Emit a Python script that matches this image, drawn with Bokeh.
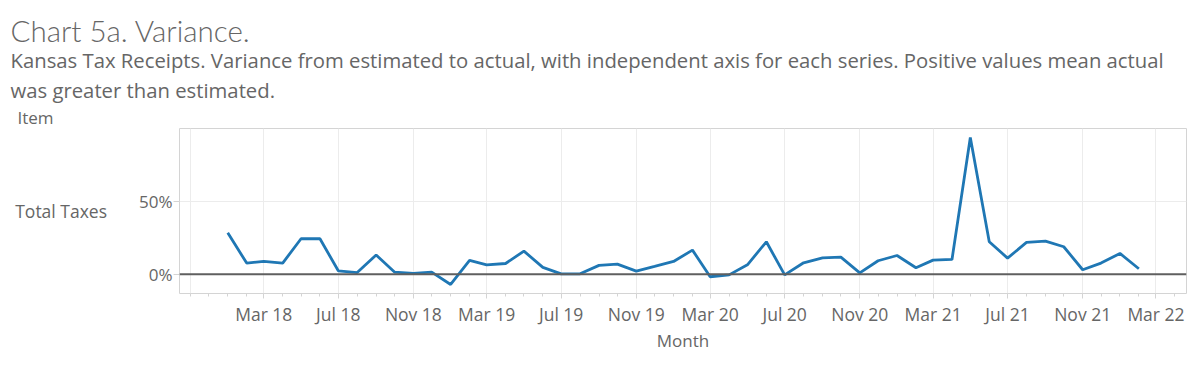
import pandas as pd
from bokeh.plotting import figure
from bokeh.models import (FixedTicker, DatetimeTickFormatter, NumeralTickFormatter,
                          Span, Title, Range1d, ColumnDataSource)
from bokeh.embed import file_html
from bokeh.resources import INLINE

# ---------------- data ----------------
months = pd.date_range("2018-01-01", "2022-02-01", freq="MS")
variance_pct = [28.4, 7.6, 8.7, 7.6, 24.3, 24.3, 2.3, 1.1, 13.1, 1.4, 0.5, 1.4,
                -7.1, 9.4, 6.4, 7.3, 15.8, 4.6, 0.2, 0.2, 6.0, 6.9, 2.1, 5.3,
                8.7, 16.5, -1.8, -0.5, 6.4, 22.2, -0.5, 7.8, 11.2, 11.7, 0.9, 9.2,
                12.8, 4.4, 9.6, 10.1, 93.8, 22.2, 11.0, 21.8, 22.7, 18.8, 3.0, 7.6,
                14.2, 3.7]
tick_months = pd.date_range("2018-03-01", "2022-03-01", freq="4MS")
grid_months = pd.date_range("2017-11-01", "2022-03-01", freq="4MS")
minor_months = pd.date_range("2017-11-01", "2022-04-01", freq="MS")
y_ticks = [0, 0.5]
title_text = "Chart 5a. Variance."
subtitle_1 = ("Kansas Tax Receipts. Variance from estimated to actual, with independent axis "
              "for each series. Positive values mean actual")
subtitle_2 = "was greater than estimated."
row_header = "Item"
row_label = "Total Taxes"
x_label = "Month"

def ms(ts):
    return [t.value // 10**6 for t in ts]

X0 = pd.Timestamp("2017-10-14").value // 10**6
X1 = pd.Timestamp("2022-04-20").value // 10**6
Y0, Y1 = -0.133, 1.0

src = ColumnDataSource(dict(month=months, variance=[v / 100 for v in variance_pct]))

FONT = "Open Sans"
TXT = "#666666"
RULE = "#d4d4d4"
GRID = "#ececec"

p = figure(width=1198, height=365, x_axis_type="datetime", title=None,
           x_range=Range1d(X0, X1), y_range=Range1d(Y0, Y1),
           output_backend="svg", toolbar_location=None,
           min_border_left=179, min_border_right=12, min_border_top=128, min_border_bottom=72)
p.background_fill_color = "white"
p.border_fill_color = "white"
p.outline_line_color = RULE
p.outline_line_width = 1

p.line(x="month", y="variance", source=src, line_width=2.8, line_color="#1f77b4")

p.add_layout(Span(location=0, dimension="width", line_color="#5f5f5f", line_width=2))

# ---------------- x axis ----------------
xa = p.xaxis[0]
xa.ticker = FixedTicker(ticks=ms(tick_months), minor_ticks=ms(minor_months))
xa.formatter = DatetimeTickFormatter(days="%b %y", months="%b %y", years="%b %y")
xa.axis_line_color = None
xa.major_tick_line_color = RULE
xa.major_tick_in = 0
xa.major_tick_out = 5
xa.minor_tick_line_color = RULE
xa.minor_tick_in = 0
xa.minor_tick_out = 3
xa.major_label_text_font = FONT
xa.major_label_text_font_size = "17.5px"
xa.major_label_text_color = TXT
xa.major_label_standoff = 3
xa.axis_label = x_label
xa.axis_label_text_font = FONT
xa.axis_label_text_font_size = "17px"
xa.axis_label_text_font_style = "normal"
xa.axis_label_text_color = TXT
xa.axis_label_standoff = 0

# ---------------- y axis ----------------
ya = p.yaxis[0]
ya.ticker = FixedTicker(ticks=y_ticks)
ya.formatter = NumeralTickFormatter(format="0%")
ya.axis_line_color = None
ya.major_tick_line_color = RULE
ya.major_tick_in = 0
ya.major_tick_out = 6
ya.minor_tick_line_color = None
ya.major_label_text_font = FONT
ya.major_label_text_font_size = "17px"
ya.major_label_text_color = TXT
ya.major_label_standoff = 1
ya.axis_label = row_label
ya.axis_label_orientation = "horizontal"
ya.axis_label_text_font = FONT
ya.axis_label_text_font_size = "17.5px"
ya.axis_label_text_font_style = "normal"
ya.axis_label_text_color = TXT
ya.axis_label_standoff = 29

p.xgrid.ticker = FixedTicker(ticks=ms(grid_months))
p.xgrid.grid_line_color = GRID
p.ygrid.ticker = FixedTicker(ticks=[0.5])
p.ygrid.grid_line_color = GRID

# ---------------- titles (stacked outward from the frame) ----------------
def ttl(text, size, standoff, offset, font=FONT):
    kw = dict(text=text, align="left", offset=offset,
              text_font=font, text_font_size=size, text_font_style="normal",
              text_color=TXT)
    try:
        return Title(standoff=standoff, **kw)
    except ValueError:
        return Title(standoff=0, **kw)

t_item = ttl(row_header, "17px", 0, -162)
t_sub2 = ttl(subtitle_2, "20.3px", 0, -169)
t_sub1 = ttl(subtitle_1, "20.3px", 0, -169)
t_main = ttl(title_text, "29.5px", -8, -169, "Lato Light")
p.above = [t_item, t_sub2, t_sub1, t_main]

open("out.html", "w").write(file_html(p, INLINE))
